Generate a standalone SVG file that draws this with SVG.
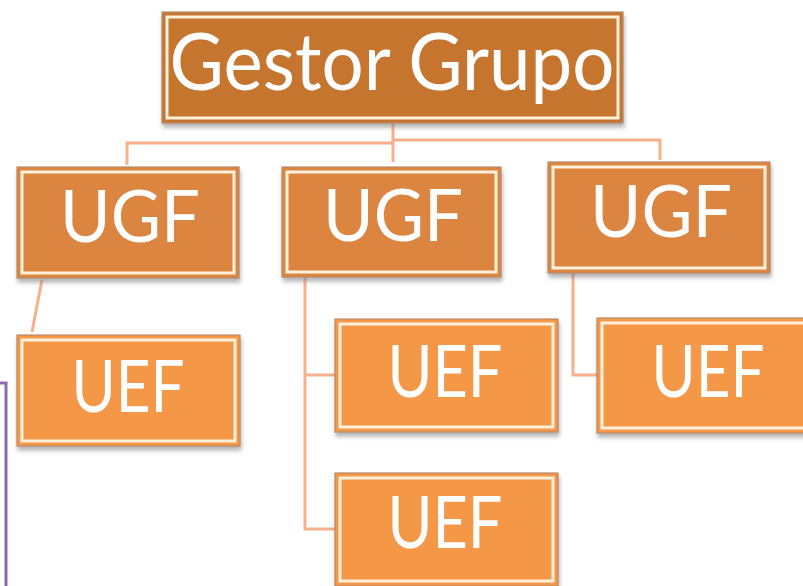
<svg xmlns="http://www.w3.org/2000/svg" width="803" height="586" viewBox="0 0 803 586">
<style>
.box{stroke:#B98A6A;stroke-width:1.2}
.top{fill:#C5742F}
.ugf{fill:#DB853F}
.uef{fill:#F49746}
.inner{fill:none;stroke:#FFF1DC;stroke-width:3}
.lbl{font-family:Lato,"Liberation Sans",sans-serif;fill:#FFFFFF;text-anchor:middle}
.conn{fill:none;stroke:#F6B08C;stroke-width:3}
</style>
<defs>
<filter id="sh" x="-10%" y="-10%" width="120%" height="130%">
<feDropShadow dx="1" dy="4" stdDeviation="2" flood-color="#777" flood-opacity="0.55"/>
</filter>
</defs>
<rect width="803" height="586" fill="#FFFFFF"/>
<g id="connectors">
<path class="conn" d="M393 123 V162"/>
<path class="conn" d="M127 165 V143 H393"/>
<path class="conn" d="M393 140 H660 V160"/>
<path class="conn" d="M42 280 L32 332"/>
<path class="conn" d="M305 277 V529 H335 M305 375 H335"/>
<path class="conn" d="M573 273 V375 H597"/>
</g>
<g id="gestor">
<rect class="box top" x="162" y="12" width="461" height="111" filter="url(#sh)"/>
<rect class="inner" x="167" y="17" width="451" height="101"/>
<text class="lbl" x="392" y="90" font-size="80" textLength="445" lengthAdjust="spacingAndGlyphs">Gestor Grupo</text>
</g>
<g id="ugf1">
<rect class="box ugf" x="17" y="167" width="222" height="111" filter="url(#sh)"/>
<rect class="inner" x="22" y="172" width="212" height="101"/>
<text class="lbl" x="130" y="242" font-size="72" textLength="140" lengthAdjust="spacingAndGlyphs">UGF</text>
</g>
<g id="ugf2">
<rect class="box ugf" x="282" y="167" width="219" height="110" filter="url(#sh)"/>
<rect class="inner" x="287" y="172" width="209" height="100"/>
<text class="lbl" x="393" y="241" font-size="72" textLength="140" lengthAdjust="spacingAndGlyphs">UGF</text>
</g>
<g id="ugf3">
<rect class="box ugf" x="548" y="162" width="222" height="111" filter="url(#sh)"/>
<rect class="inner" x="553" y="167" width="212" height="101"/>
<text class="lbl" x="661" y="237" font-size="72" textLength="142" lengthAdjust="spacingAndGlyphs">UGF</text>
</g>
<g id="uef1">
<rect class="box uef" x="17" y="335" width="223" height="111" filter="url(#sh)"/>
<rect class="inner" x="22" y="340" width="213" height="101"/>
<text class="lbl" x="128" y="412" font-size="72" textLength="113" lengthAdjust="spacingAndGlyphs">UEF</text>
</g>
<g id="uef2">
<rect class="box uef" x="335" y="319" width="223" height="113" filter="url(#sh)"/>
<rect class="inner" x="340" y="324" width="213" height="103"/>
<text class="lbl" x="445" y="397" font-size="72" textLength="115" lengthAdjust="spacingAndGlyphs">UEF</text>
</g>
<g id="uef3">
<rect class="box uef" x="335" y="473" width="223" height="113" filter="url(#sh)"/>
<rect class="inner" x="340" y="478" width="213" height="103"/>
<text class="lbl" x="445" y="548" font-size="72" textLength="115" lengthAdjust="spacingAndGlyphs">UEF</text>
</g>
<g id="uef4">
<rect class="box uef" x="597" y="318" width="223" height="115" filter="url(#sh)"/>
<rect class="inner" x="602" y="323" width="213" height="105"/>
<text class="lbl" x="708" y="397" font-size="72" textLength="113" lengthAdjust="spacingAndGlyphs">UEF</text>
</g>
<g id="bracket">
<path d="M0 383 H6 V586" fill="none" stroke="#8C6BB1" stroke-width="3"/>
</g>
</svg>
